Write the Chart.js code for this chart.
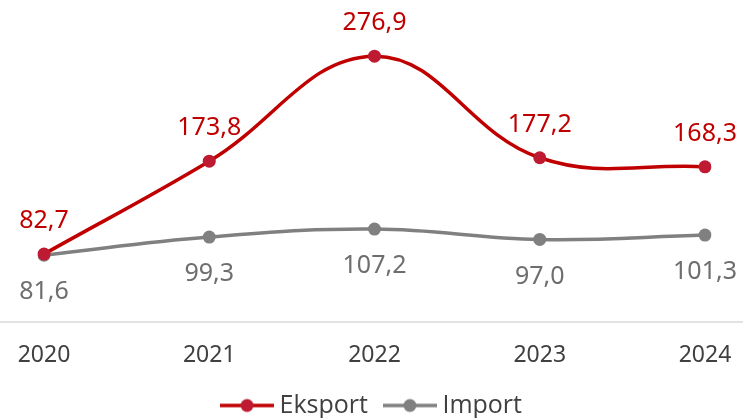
<!DOCTYPE html>
<html lang="id">
<head>
    <meta charset="UTF-8">
    <title>Eksport dan Import</title>
    <script src="https://cdn.jsdelivr.net/npm/chart.js"></script>
    <style>
        html, body { margin: 0; padding: 0; background: #fff; overflow: hidden; }
        #grafik { display: block; }
    </style>
</head>
<body>
    <canvas id="grafik" width="743" height="428"></canvas>

    <script>
        // data dari gambar
        const tahun = ['2020', '2021', '2022', '2023', '2024'];
        const eksport = [82.7, 173.8, 276.9, 177.2, 168.3];
        const importData = [81.6, 99.3, 107.2, 97.0, 101.3];

        const merah = '#C00000';
        const merahTitik = '#BE1A32';
        const abu = '#808080';

        // ikon legenda: garis + titik
        function ikon(warnaGaris, warnaTitik) {
            const c = document.createElement('canvas');
            c.width = 54; c.height = 16;
            const g = c.getContext('2d');
            g.strokeStyle = warnaGaris;
            g.lineWidth = 3.5;
            g.beginPath(); g.moveTo(0, 8); g.lineTo(54, 8); g.stroke();
            g.fillStyle = warnaTitik;
            g.beginPath(); g.arc(27, 8, 6.5, 0, Math.PI * 2); g.fill();
            return c;
        }

        const fmt = v => v.toFixed(1).replace('.', ',');

        // label angka di atas / bawah titik
        const labelPlugin = {
            id: 'labelAngka',
            afterDatasetsDraw(chart) {
                const ctx = chart.ctx;
                ctx.save();
                ctx.font = '25px "Noto Sans"';
                ctx.textAlign = 'center';
                ctx.textBaseline = 'middle';
                chart.data.datasets.forEach((ds, i) => {
                    const meta = chart.getDatasetMeta(i);
                    ctx.fillStyle = ds.warnaLabel;
                    meta.data.forEach((pt, j) => {
                        ctx.fillText(fmt(ds.data[j]), pt.x, pt.y + ds.geser);
                    });
                });
                ctx.restore();
            }
        };

        // garis sumbu sepanjang lebar gambar
        const sumbuPlugin = {
            id: 'sumbu',
            beforeDatasetsDraw(chart) {
                const ctx = chart.ctx;
                const y = chart.chartArea.bottom;
                ctx.save();
                ctx.strokeStyle = '#D9D9D9';
                ctx.lineWidth = 1.5;
                ctx.beginPath();
                ctx.moveTo(0, y);
                ctx.lineTo(chart.width, y);
                ctx.stroke();
                ctx.restore();
            }
        };

        new Chart(document.getElementById('grafik'), {
            type: 'line',
            data: {
                labels: tahun,
                datasets: [
                    {
                        label: 'Eksport',
                        data: eksport,
                        borderColor: merah,
                        backgroundColor: merahTitik,
                        pointBackgroundColor: merahTitik,
                        pointBorderWidth: 0,
                        pointRadius: 6.5,
                        borderWidth: 3.5,
                        tension: 0.4,
                        warnaLabel: '#C00000',
                        geser: -33,
                        pointStyle: 'circle'
                    },
                    {
                        label: 'Import',
                        data: importData,
                        borderColor: abu,
                        backgroundColor: abu,
                        pointBackgroundColor: abu,
                        pointBorderWidth: 0,
                        pointRadius: 6.5,
                        borderWidth: 3.5,
                        tension: 0.4,
                        warnaLabel: '#6E6E6E',
                        geser: 37,
                        pointStyle: 'circle'
                    }
                ]
            },
            options: {
                responsive: false,
                animation: false,
                layout: { autoPadding: false, padding: { left: 44, right: 38, top: 0, bottom: 0 } },
                scales: {
                    x: {
                        grid: { display: false, drawTicks: false },
                        border: { display: false },
                        ticks: {
                            color: '#404040',
                            font: { family: 'Noto Sans', size: 23 },
                            padding: 20
                        },
                        afterFit(scale) {
                            scale.height = 49;
                            scale.paddingLeft = 0;
                            scale.paddingRight = 0;
                        }
                    },
                    y: {
                        display: false,
                        min: 16,
                        max: 332
                    }
                },
                plugins: {
                    tooltip: { enabled: false },
                    legend: {
                        position: 'bottom',
                        labels: {
                            usePointStyle: true,
                            pointStyleWidth: 40,
                            color: '#404040',
                            font: { family: 'Open Sans', size: 25 },
                            padding: 22,
                            generateLabels(chart) {
                                return chart.data.datasets.map((ds, i) => ({
                                    text: ds.label,
                                    pointStyle: ikon(ds.borderColor, ds.pointBackgroundColor),
                                    fontColor: '#404040',
                                    hidden: false,
                                    datasetIndex: i,
                                    lineWidth: 0
                                }));
                            }
                        }
                    }
                }
            },
            plugins: [labelPlugin, sumbuPlugin]
        });
    </script>
</body>
</html>
